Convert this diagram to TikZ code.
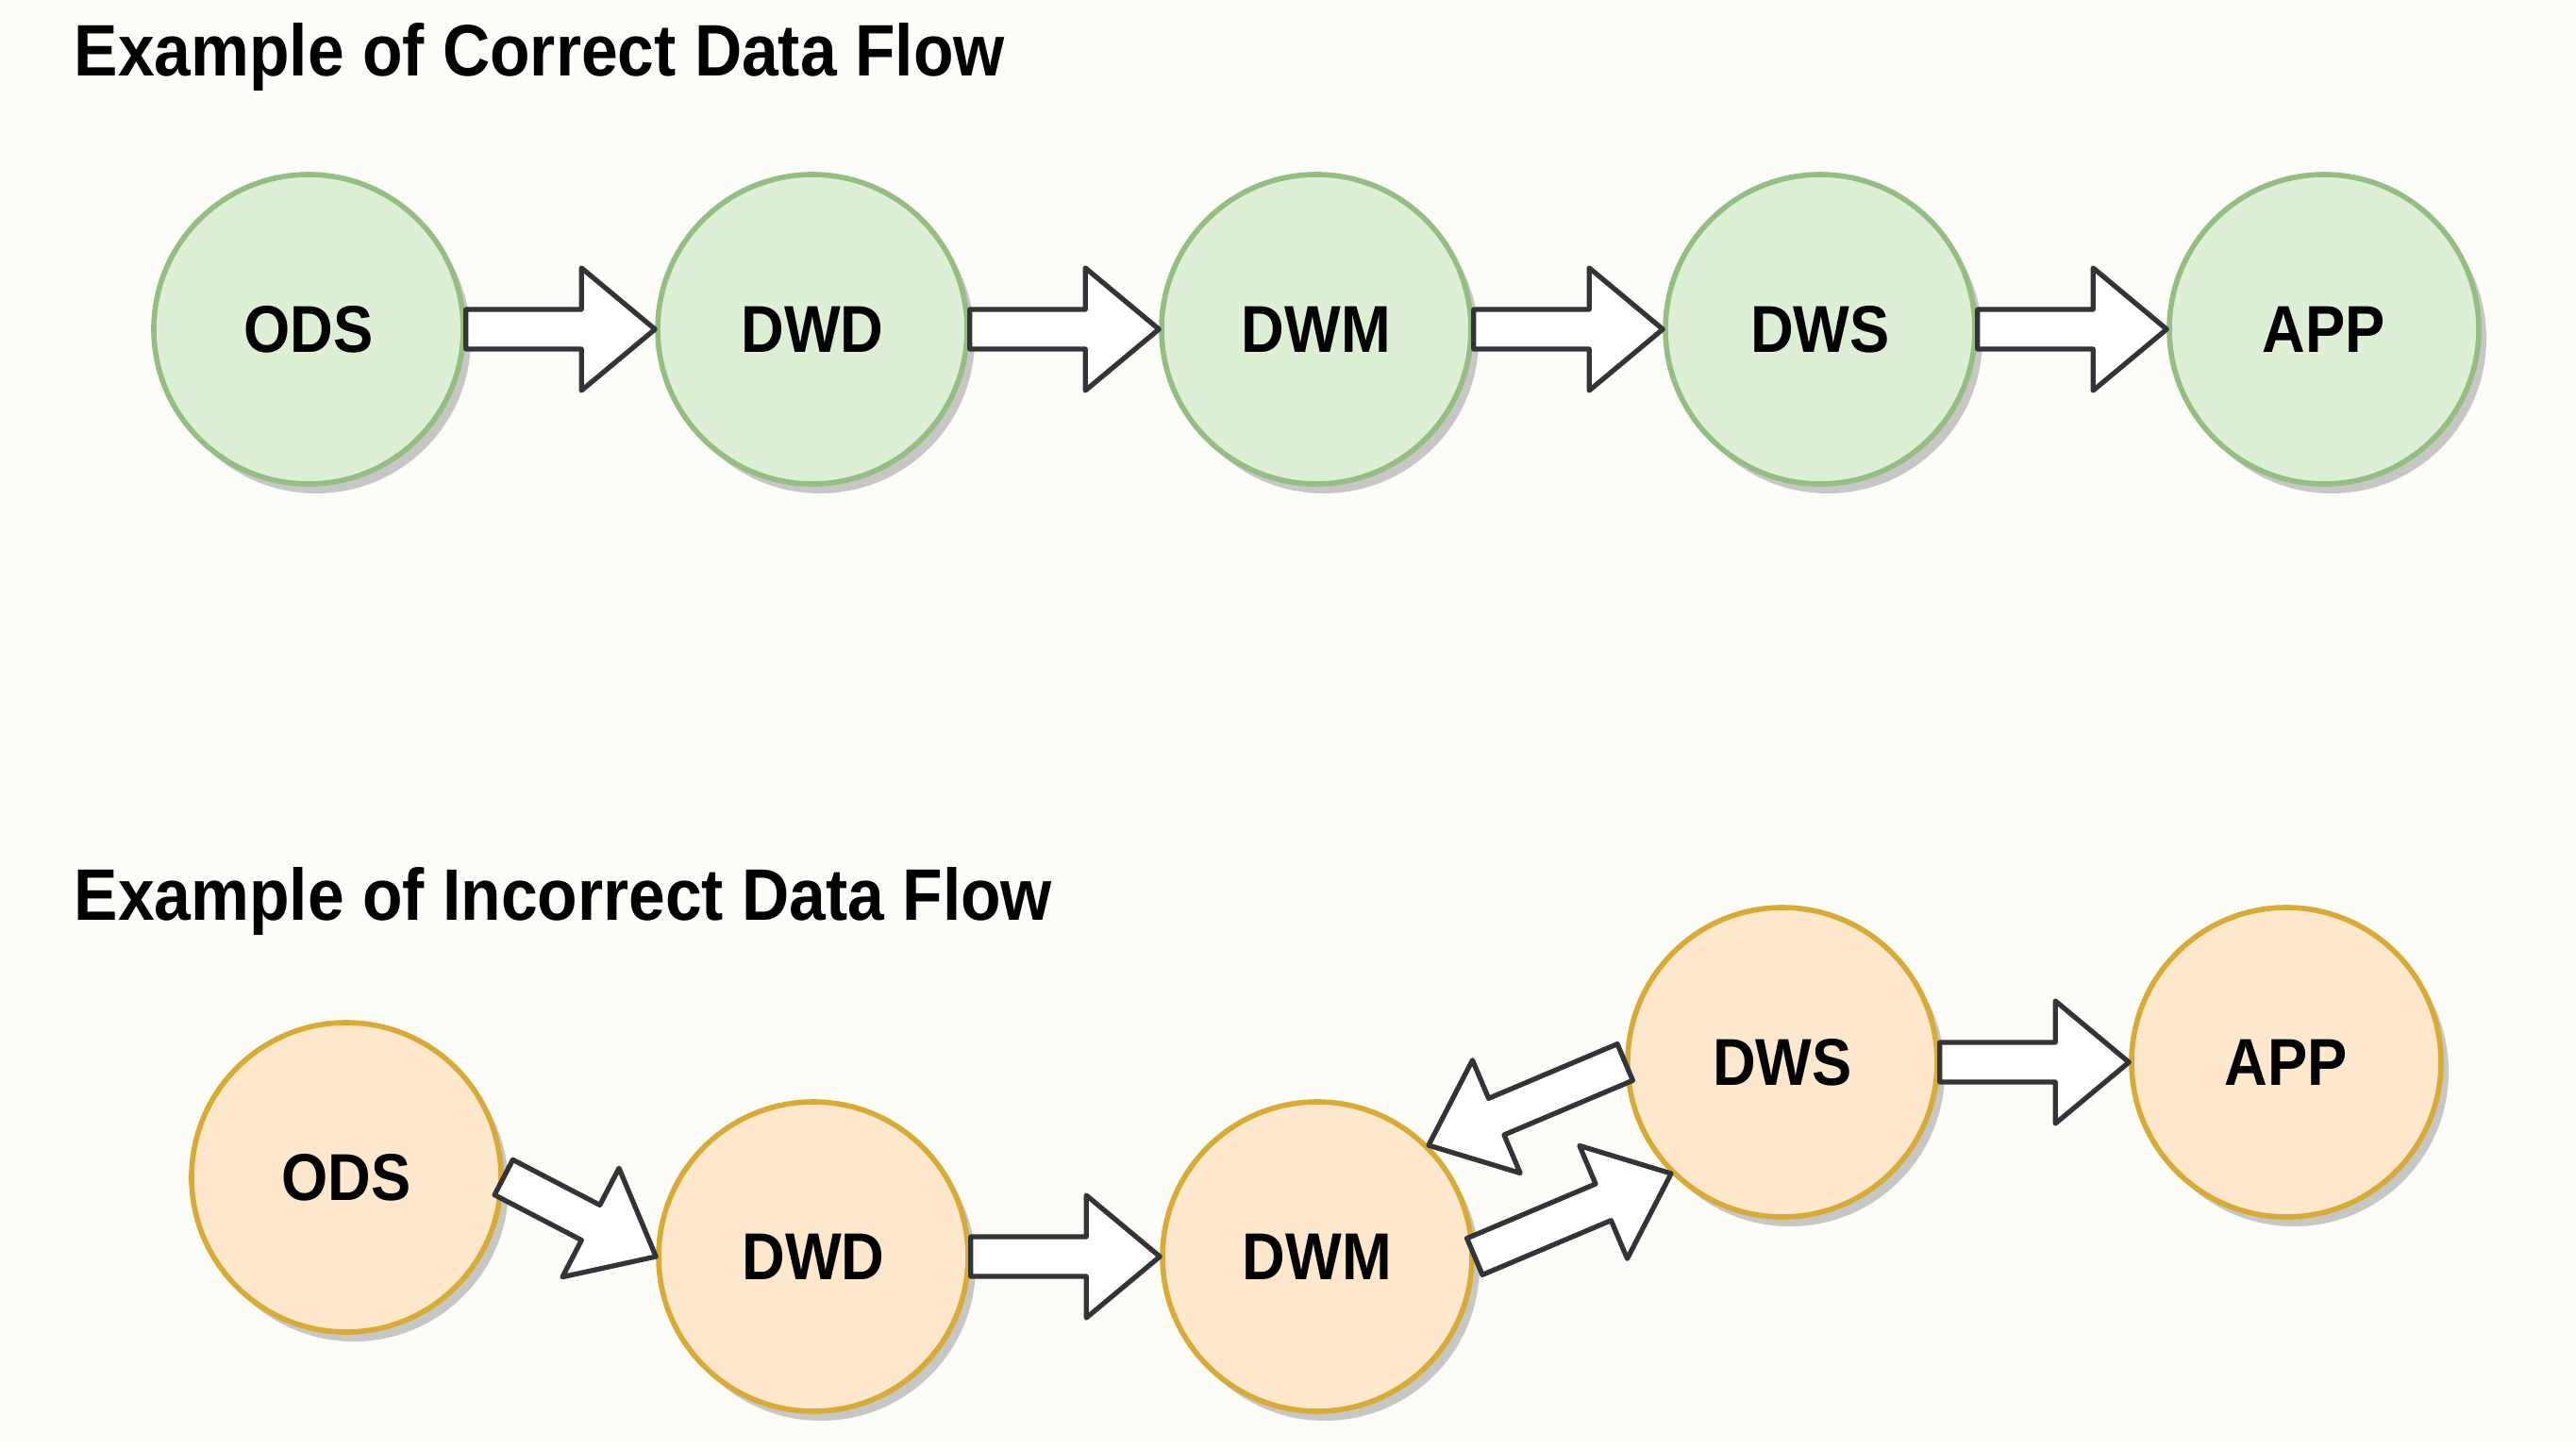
\documentclass[tikz,border=0pt]{standalone}
\usepackage{fontspec}
\setmainfont{Liberation Sans}[FakeStretch=0.9]
\usepackage{tikz}
\usetikzlibrary{calc,shadows}

\definecolor{goodfill}{RGB}{221,240,214}
\definecolor{gooddraw}{RGB}{148,190,130}
\definecolor{badfill}{RGB}{253,231,205}
\definecolor{baddraw}{RGB}{216,172,52}
\definecolor{ink}{RGB}{50,52,55}
\definecolor{paper}{RGB}{252,252,249}

% block arrow from one anchor to another
\newcommand{\blockarrow}[2]{%
  \coordinate (tail) at (#1);
  \coordinate (tip) at (#2);
  \coordinate (neck) at ($(tip)!0.78cm!(tail)$);
  \draw[flow] ($(tail)!0.21cm!90:(tip)$) -- ($(neck)!0.21cm!90:(tip)$)
     -- ($(neck)!0.65cm!90:(tip)$) -- (tip)
     -- ($(neck)!0.65cm!-90:(tip)$) -- ($(neck)!0.21cm!-90:(tip)$)
     -- ($(tail)!0.21cm!-90:(tip)$) -- cycle;}

\begin{document}
\begin{tikzpicture}[node distance=5.34cm]
\tikzstyle{layer}=[circle, minimum size=3.28cm, line width=1.6pt,
                   font=\fontsize{20}{24}\selectfont\bfseries, text=black,
                   drop shadow={shadow xshift=0.08cm, shadow yshift=-0.1cm,
                                fill=black!60, opacity=0.35}]
\tikzstyle{good}=[layer, draw=gooddraw, fill=goodfill]
\tikzstyle{bad}=[layer, draw=baddraw, fill=badfill]
\tikzstyle{flow}=[draw=ink, fill=white, line width=1.5pt, line join=round]
\tikzstyle{title}=[anchor=base west, inner sep=0pt, text=black,
                   font=\fontsize{22}{26}\selectfont\bfseries]

\useasboundingbox (0,0) rectangle (27.3,-15.35);
\fill[paper] (0,0) rectangle (27.3,-15.35);

\node[title] (T1) at (0.78,-0.80) {Example of Correct Data Flow};
\node[title] (T2) at (0.78,-9.75) {Example of Incorrect Data Flow};

% correct
\node[good] (ODS1) at (3.27,-3.49) {ODS};
\node[good][right of=ODS1] (DWD1) {DWD};
\node[good][right of=DWD1] (DWM1) {DWM};
\node[good][right of=DWM1] (DWS1) {DWS};
\node[good][right of=DWS1] (APP1) {APP};

\blockarrow{ODS1.east}{DWD1.west}
\blockarrow{DWD1.east}{DWM1.west}
\blockarrow{DWM1.east}{DWS1.west}
\blockarrow{DWS1.east}{APP1.west}

% incorrect
\node[bad] (ODS2) at (3.67,-12.48) {ODS};
\node[bad] (DWD2) at (8.62,-13.32) {DWD};
\node[bad][right of=DWD2] (DWM2) {DWM};
\node[bad] (DWS2) at (18.89,-11.26) {DWS};
\node[bad][right of=DWS2] (APP2) {APP};

\blockarrow{ODS2.east}{DWD2.west}
\blockarrow{DWD2.east}{DWM2.west}
\blockarrow{DWS2.west}{DWM2.45}
\blockarrow{DWM2.east}{DWS2.225}
\blockarrow{DWS2.east}{APP2.west}

\end{tikzpicture}
\end{document}
